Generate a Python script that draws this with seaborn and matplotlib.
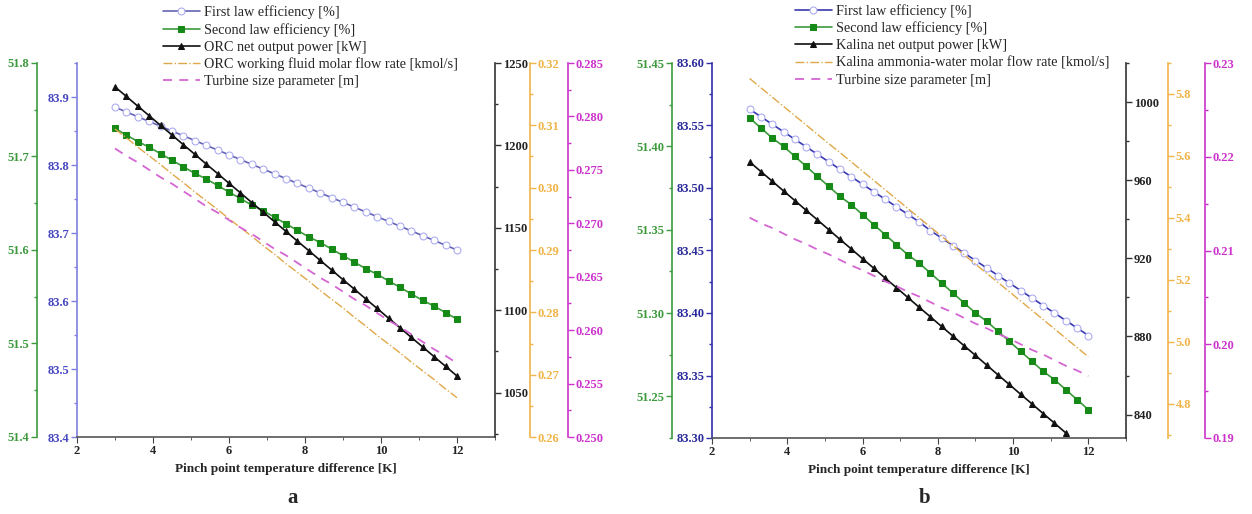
import matplotlib
matplotlib.use("Agg")
import matplotlib.pyplot as plt
from matplotlib.ticker import MultipleLocator, AutoMinorLocator, FormatStrFormatter
import seaborn as sns

sns.set_style("ticks")
plt.rcParams['font.family'] = ['Liberation Serif', 'DejaVu Serif']
plt.rcParams['font.weight'] = 'bold'

# Pinch point temperature difference [K]
pinch = [3.0, 3.3, 3.6, 3.9, 4.2, 4.5, 4.8, 5.1, 5.4, 5.7, 6.0, 6.3, 6.6, 6.9, 7.2,
         7.5, 7.8, 8.1, 8.4, 8.7, 9.0, 9.3, 9.6, 9.9, 10.2, 10.5, 10.8, 11.1, 11.4,
         11.7, 12.0]

# (a) ORC
orc_first = [83.885, 83.878, 83.871, 83.864, 83.857, 83.850, 83.843, 83.836, 83.829,
             83.822, 83.815, 83.808, 83.801, 83.794, 83.787, 83.780, 83.773, 83.766,
             83.759, 83.752, 83.745, 83.738, 83.731, 83.724, 83.717, 83.710, 83.703,
             83.696, 83.689, 83.682, 83.675]
orc_second = [51.730, 51.723, 51.716, 51.710, 51.703, 51.696, 51.689, 51.682, 51.676,
              51.669, 51.662, 51.655, 51.648, 51.642, 51.635, 51.628, 51.621, 51.614,
              51.608, 51.601, 51.594, 51.587, 51.580, 51.574, 51.567, 51.560, 51.553,
              51.546, 51.540, 51.533, 51.526]
orc_power = [1235.5, 1229.7, 1223.8, 1218.0, 1212.1, 1206.3, 1200.4, 1194.6, 1188.7,
             1182.9, 1177.0, 1171.2, 1165.3, 1159.5, 1153.6, 1147.8, 1141.9, 1136.1,
             1130.2, 1124.4, 1118.5, 1112.7, 1106.8, 1101.0, 1095.1, 1089.3, 1083.4,
             1077.6, 1071.7, 1065.9, 1060.0]
orc_flow = [0.3094, 0.3080, 0.3065, 0.3051, 0.3037, 0.3022, 0.3008, 0.2993, 0.2979,
            0.2965, 0.2950, 0.2936, 0.2922, 0.2907, 0.2893, 0.2878, 0.2864, 0.2850,
            0.2835, 0.2821, 0.2807, 0.2792, 0.2778, 0.2763, 0.2749, 0.2735, 0.2720,
            0.2706, 0.2692, 0.2677, 0.2663]
orc_turbine = [0.2770, 0.2763, 0.2757, 0.2750, 0.2743, 0.2737, 0.2730, 0.2723, 0.2716,
               0.2710, 0.2703, 0.2696, 0.2690, 0.2683, 0.2676, 0.2670, 0.2663, 0.2656,
               0.2649, 0.2643, 0.2636, 0.2629, 0.2623, 0.2616, 0.2609, 0.2603, 0.2596,
               0.2589, 0.2582, 0.2576, 0.2569]

# (b) Kalina
kal_first = [83.563, 83.557, 83.551, 83.545, 83.539, 83.533, 83.527, 83.521, 83.515,
             83.509, 83.503, 83.497, 83.491, 83.485, 83.479, 83.473, 83.466, 83.460,
             83.454, 83.448, 83.442, 83.436, 83.430, 83.424, 83.418, 83.412, 83.406,
             83.400, 83.394, 83.388, 83.382]
kal_second = [51.417, 51.411, 51.405, 51.400, 51.394, 51.388, 51.382, 51.376, 51.370,
              51.365, 51.359, 51.353, 51.347, 51.341, 51.335, 51.330, 51.324, 51.318,
              51.312, 51.306, 51.300, 51.295, 51.289, 51.283, 51.277, 51.271, 51.265,
              51.260, 51.254, 51.248, 51.242]
# visible only down to 11.4 K (rest falls below the axis)
kal_power = [969.4, 964.4, 959.5, 954.5, 949.6, 944.6, 939.7, 934.7, 929.7, 924.8,
             919.8, 914.9, 909.9, 905.0, 900.0, 895.0, 890.1, 885.1, 880.2, 875.2,
             870.3, 865.3, 860.3, 855.4, 850.4, 845.5, 840.5, 835.6, 830.6]
kal_flow = [5.850, 5.820, 5.790, 5.760, 5.730, 5.700, 5.670, 5.640, 5.611, 5.581,
            5.551, 5.521, 5.491, 5.461, 5.431, 5.401, 5.371, 5.341, 5.311, 5.281,
            5.251, 5.221, 5.192, 5.162, 5.132, 5.102, 5.072, 5.042, 5.012, 4.982, 4.952]
kal_turbine = [0.2135, 0.2129, 0.2124, 0.2118, 0.2112, 0.2107, 0.2101, 0.2096, 0.2090,
               0.2084, 0.2079, 0.2073, 0.2067, 0.2062, 0.2056, 0.2051, 0.2045, 0.2039,
               0.2034, 0.2028, 0.2022, 0.2017, 0.2011, 0.2006, 0.2000, 0.1994, 0.1989,
               0.1983, 0.1977, 0.1972, 0.1966]

GREEN = '#3c9a3c'
ORANGE = '#f0b448'
MAGENTA = '#cc33cc'
BLACK = '#333333'
PX = 0.72  # pixels -> points at 100 dpi


def style_y(axis, side, color, lim, major, fmt, offset=0, label_color=None):
    for s in axis.spines.values():
        s.set_visible(False)
    sp = axis.spines[side]
    sp.set_visible(True)
    sp.set_color(color)
    sp.set_linewidth(1.2)
    if offset:
        sp.set_position(('outward', offset * PX))
    axis.yaxis.set_ticks_position(side)
    axis.set_ylim(*lim)
    axis.yaxis.set_major_locator(MultipleLocator(major))
    axis.yaxis.set_minor_locator(AutoMinorLocator(2))
    axis.yaxis.set_major_formatter(FormatStrFormatter(fmt))
    axis.tick_params(axis='y', which='both', direction='out', colors=color,
                     labelcolor=label_color or color, labelsize=9, width=1, pad=1.5)
    axis.tick_params(axis='y', which='major', length=4)
    axis.tick_params(axis='y', which='minor', length=2.5)
    axis.set_ylabel('')


def panel(rect, blue_spine, blue_line, series, lims, legend_anchor, names):
    ax = fig.add_axes(rect)
    first, second, power, flow, turb, power_x = series
    sns.lineplot(x=pinch, y=first, ax=ax, color=blue_line, marker='o', markersize=5,
                 markerfacecolor='white', markeredgecolor='#a8a8f0', linewidth=1.2,
                 label=names[0], legend=False)
    g = ax.twinx()
    sns.lineplot(x=pinch, y=second, ax=g, color=GREEN, marker='s', markersize=4,
                 markerfacecolor='#168a16', markeredgecolor='#168a16', linewidth=1.2,
                 label=names[1], legend=False)
    k = ax.twinx()
    sns.lineplot(x=power_x, y=power, ax=k, color='#111111', marker='^', markersize=5,
                 markeredgecolor='#111111', linewidth=1.2, label=names[2], legend=False)
    o = ax.twinx()
    sns.lineplot(x=pinch, y=flow, ax=o, color='#e0a848', linestyle='-.', linewidth=1.0,
                 label=names[3], legend=False)
    m = ax.twinx()
    sns.lineplot(x=pinch, y=turb, ax=m, color='#d466d4', linewidth=1.3,
                 dashes=False, label=names[4], legend=False)
    m.lines[-1].set_dashes([5, 4])

    # main (blue) axis
    style_y(ax, 'left', blue_spine[0], lims[0][0], lims[0][1], lims[0][2],
            label_color=blue_spine[1])
    ax.spines['bottom'].set_visible(True)
    ax.spines['bottom'].set_color('#555555')
    ax.spines['bottom'].set_linewidth(1.2)
    ax.set_xlim(2, 13)
    ax.xaxis.set_major_locator(MultipleLocator(2))
    ax.xaxis.set_minor_locator(MultipleLocator(1))
    ax.tick_params(axis='x', which='both', direction='out', colors='#444444',
                   labelcolor='#222222', labelsize=9, pad=2)
    ax.tick_params(axis='x', which='major', length=4)
    ax.tick_params(axis='x', which='minor', length=2.5)
    ax.set_xlabel('Pinch point temperature difference [K]', fontsize=9.5,
                  fontweight='bold', labelpad=4)
    ax.set_ylabel('')

    style_y(g, 'left', GREEN, lims[1][0], lims[1][1], lims[1][2], offset=40)
    style_y(k, 'right', BLACK, lims[2][0], lims[2][1], lims[2][2], label_color='#222222')
    style_y(o, 'right', ORANGE, lims[3][0], lims[3][1], lims[3][2], offset=lims[5][0])
    style_y(m, 'right', MAGENTA, lims[4][0], lims[4][1], lims[4][2], offset=lims[5][1])

    handles = [a.lines[-1] for a in (ax, g, k, o, m)]
    ax.legend(handles, names, loc='upper left', bbox_to_anchor=legend_anchor,
              frameon=False, prop={'weight': 'normal', 'size': 10.3},
              handlelength=2.6, handletextpad=0.3, labelspacing=0.28,
              borderaxespad=0, borderpad=0)
    return ax


fig = plt.figure(figsize=(12.52, 5.14), dpi=100)

panel([77 / 1252, 1 - 437 / 514, 418 / 1252, 374 / 514],
      ('#8080e0', '#4848c0'), '#6464b4',
      (orc_first, orc_second, orc_power, orc_flow, orc_turbine, pinch),
      [((83.4, 83.95), 0.1, '%.1f'),
       ((51.4, 51.8), 0.1, '%.1f'),
       ((1023, 1250), 50, '%d'),
       ((0.26, 0.32), 0.01, '%.2f'),
       ((0.25, 0.285), 0.005, '%.3f'),
       (35, 73)],
      (0.205, 1.155),
      ['First law efficiency [%]', 'Second law efficiency [%]',
       'ORC net output power [kW]', 'ORC working fluid molar flow rate [kmol/s]',
       'Turbine size parameter [m]'])

panel([712 / 1252, 1 - 438 / 514, 414 / 1252, 375 / 514],
      ('#3030a8', '#2a2a9a'), '#3a3ab0',
      (kal_first, kal_second, kal_power, kal_flow, kal_turbine, pinch[:len(kal_power)]),
      [((83.30, 83.60), 0.05, '%.2f'),
       ((51.225, 51.45), 0.05, '%.2f'),
       ((828, 1020), 40, '%d'),
       ((4.69, 5.9), 0.2, '%.1f'),
       ((0.19, 0.23), 0.01, '%.2f'),
       (42, 79)],
      (0.2, 1.158),
      ['First law efficiency [%]', 'Second law efficiency [%]',
       'Kalina net output power [kW]', 'Kalina ammonia-water molar flow rate [kmol/s]',
       'Turbine size parameter [m]'])

fig.text(293 / 1252, 1 - 498 / 514, 'a', ha='center', va='center', fontsize=15,
         fontweight='bold')
fig.text(925 / 1252, 1 - 498 / 514, 'b', ha='center', va='center', fontsize=15,
         fontweight='bold')

fig.savefig('out.png', dpi=100, facecolor='white')
